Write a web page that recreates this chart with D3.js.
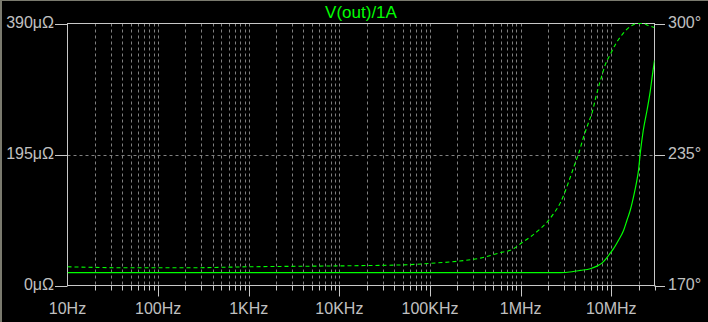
<!DOCTYPE html>
<html lang="en">

<head>
    <meta charset="UTF-8" />
    <title>V(out)/1A</title>
    <script src="https://d3js.org/d3.v7.js"></script>
    <style>
        body { margin: 0; background: #000; }
        svg { display: block; }
        text { font-family: "Liberation Sans", Arial, sans-serif; font-size: 16px; }
    </style>
</head>

<body>
    <svg id="bode"></svg>
</body>

<script>
    // magnitude trace (solid), in Hz / µΩ
    var magFreq = [10, 1e3, 1e5, 1e6, 2.74e6, 3.69e6, 4.55e6, 5.87e6, 6.95e6, 7.89e6, 8.97e6, 9.75e6,
        10.6e6, 12.0e6, 13.7e6, 14.9e6, 16.2e6, 17.6e6, 18.9e6, 20.0e6, 20.9e6, 22.5e6, 24.9e6, 26.9e6, 28.3e6, 30e6];
    var magVal = [19.2, 19.2, 19.2, 19.2, 19.2, 20.5, 22.4, 25.0, 28.8, 33.3, 41.4, 48.3,
        54.8, 67.2, 82.2, 97.1, 112, 132, 152, 172, 197, 230, 262, 289, 311, 335];

    // phase trace (dashed), in Hz / degrees
    var phFreq = [10, 46, 211, 1.05e3, 13.2e3, 56e3, 101e3, 200e3, 360e3, 597e3, 811e3, 1.04e6, 1.28e6,
        1.65e6, 1.97e6, 2.29e6, 2.74e6, 3.03e6, 3.36e6, 3.91e6, 4.44e6, 4.91e6, 5.58e6, 6.18e6, 6.66e6,
        7.19e6, 7.76e6, 8.59e6, 9.75e6, 11.07e6, 13.2e6, 16.2e6, 19.4e6, 22.5e6, 25.6e6, 29.8e6];
    var phDeg = [179.3, 178.8, 178.8, 179.3, 179.8, 180.3, 181.0, 182.0, 183.6, 186.3, 187.9, 191.3, 194.1,
        198.2, 201.6, 205.4, 211.0, 215.5, 221.0, 229.5, 236.5, 243.2, 250.5, 256.2, 262.2,
        268.1, 273.1, 279.6, 284.6, 289.5, 294.5, 298.5, 300, 300, 299, 298];

    // tick labels
    var xTicks = [10, 100, 1e3, 1e4, 1e5, 1e6, 1e7];
    var xLabels = ["10Hz", "100Hz", "1KHz", "10KHz", "100KHz", "1MHz", "10MHz"];
    var yLeftTicks = [0, 195, 390];
    var yLeftLabels = ["0\u03bc\u03a9", "195\u03bc\u03a9", "390\u03bc\u03a9"];
    var yRightTicks = [170, 235, 300];
    var yRightLabels = ["170\u00b0", "235\u00b0", "300\u00b0"];

    var width = 708, height = 322;
    var pLeft = 67.5, pRight = 654.5, pTop = 23.5, pBottom = 285.5;
    var green = "#00ff00", frame = "#c8c8c8", grid = "#808080", label = "#c0c0c0";

    var svg = d3.select("#bode")
        .attr("width", width)
        .attr("height", height);

    svg.append("rect").attr("width", width).attr("height", height).attr("fill", "#000");
    // window edge
    svg.append("rect").attr("x", 0).attr("y", 0).attr("width", width).attr("height", 1).attr("fill", "#7a7a6e");
    svg.append("rect").attr("x", 0).attr("y", 0).attr("width", 2).attr("height", height).attr("fill", "#7a7a6e");

    var x = d3.scaleLog().domain([10, 30e6]).range([pLeft, pRight]);
    var yMag = d3.scaleLinear().domain([0, 390]).range([pBottom, pTop]);
    var yPh = d3.scaleLinear().domain([170, 300]).range([pBottom, pTop]);

    // all 1..9 multiples inside the domain
    var minor = [];
    for (var e = 1; e <= 7; e++) {
        for (var m = 1; m <= 9; m++) {
            var v = m * Math.pow(10, e);
            if (v > 10 && v < 30e6) minor.push(v);
        }
    }

    svg.append("g").selectAll("line")
        .data(minor)
        .enter().append("line")
        .attr("x1", d => Math.round(x(d)) + 0.5)
        .attr("x2", d => Math.round(x(d)) + 0.5)
        .attr("y1", pTop)
        .attr("y2", pBottom)
        .attr("stroke", grid)
        .attr("stroke-dasharray", "3,3");

    svg.append("line")
        .attr("x1", pLeft).attr("x2", pRight)
        .attr("y1", Math.round(yMag(195)) + 0.5).attr("y2", Math.round(yMag(195)) + 0.5)
        .attr("stroke", grid)
        .attr("stroke-dasharray", "3,3");

    // bottom ticks
    svg.append("g").selectAll("line")
        .data(minor.concat([30e6]))
        .enter().append("line")
        .attr("x1", d => Math.round(x(d)) + 0.5)
        .attr("x2", d => Math.round(x(d)) + 0.5)
        .attr("y1", pBottom)
        .attr("y2", d => xTicks.indexOf(d) >= 0 ? pBottom + 11 : pBottom + 5)
        .attr("stroke", frame);

    // frame
    svg.append("rect")
        .attr("x", pLeft).attr("y", pTop)
        .attr("width", pRight - pLeft).attr("height", pBottom - pTop)
        .attr("fill", "none")
        .attr("stroke", frame);

    // left axis
    svg.append("g").selectAll("line")
        .data(yLeftTicks)
        .enter().append("line")
        .attr("x1", 55).attr("x2", pLeft)
        .attr("y1", d => Math.round(yMag(d)) + 0.5)
        .attr("y2", d => Math.round(yMag(d)) + 0.5)
        .attr("stroke", frame);
    svg.append("g").selectAll("text")
        .data(yLeftTicks)
        .enter().append("text")
        .attr("x", 54)
        .attr("y", d => yMag(d) + 4.5)
        .attr("text-anchor", "end")
        .attr("fill", label)
        .text((d, i) => yLeftLabels[i]);

    // right axis
    svg.append("g").selectAll("line")
        .data(yRightTicks)
        .enter().append("line")
        .attr("x1", pRight).attr("x2", 665)
        .attr("y1", d => Math.round(yPh(d)) + 0.5)
        .attr("y2", d => Math.round(yPh(d)) + 0.5)
        .attr("stroke", frame);
    svg.append("g").selectAll("text")
        .data(yRightTicks)
        .enter().append("text")
        .attr("x", 668)
        .attr("y", d => yPh(d) + 4.5)
        .attr("fill", label)
        .text((d, i) => yRightLabels[i]);

    // bottom labels
    svg.append("g").selectAll("text")
        .data(xTicks)
        .enter().append("text")
        .attr("x", d => x(d))
        .attr("y", 314)
        .attr("text-anchor", "middle")
        .attr("fill", label)
        .text((d, i) => xLabels[i]);

    // title
    svg.append("text")
        .attr("x", (pLeft + pRight) / 2)
        .attr("y", 18)
        .attr("text-anchor", "middle")
        .attr("fill", green)
        .style("font-size", "17px")
        .text("V(out)/1A");

    svg.append("clipPath").attr("id", "plotClip")
        .append("rect")
        .attr("x", pLeft).attr("y", pTop - 1)
        .attr("width", pRight - pLeft).attr("height", pBottom - pTop + 1);

    var plot = svg.append("g").attr("clip-path", "url(#plotClip)");

    var magLine = d3.line()
        .x(d => x(d[0]))
        .y(d => yMag(d[1]))
        .curve(d3.curveMonotoneX);
    var phLine = d3.line()
        .x(d => x(d[0]))
        .y(d => yPh(d[1]))
        .curve(d3.curveMonotoneX);

    plot.append("path")
        .datum(phFreq.map((f, i) => [f, phDeg[i]]))
        .attr("d", phLine)
        .attr("fill", "none")
        .attr("stroke", green)
        .attr("stroke-width", 1.1)
        .attr("stroke-dasharray", "4,3");

    plot.append("path")
        .datum(magFreq.map((f, i) => [f, magVal[i]]))
        .attr("d", magLine)
        .attr("fill", "none")
        .attr("stroke", green)
        .attr("stroke-width", 1.2);
</script>

</html>
